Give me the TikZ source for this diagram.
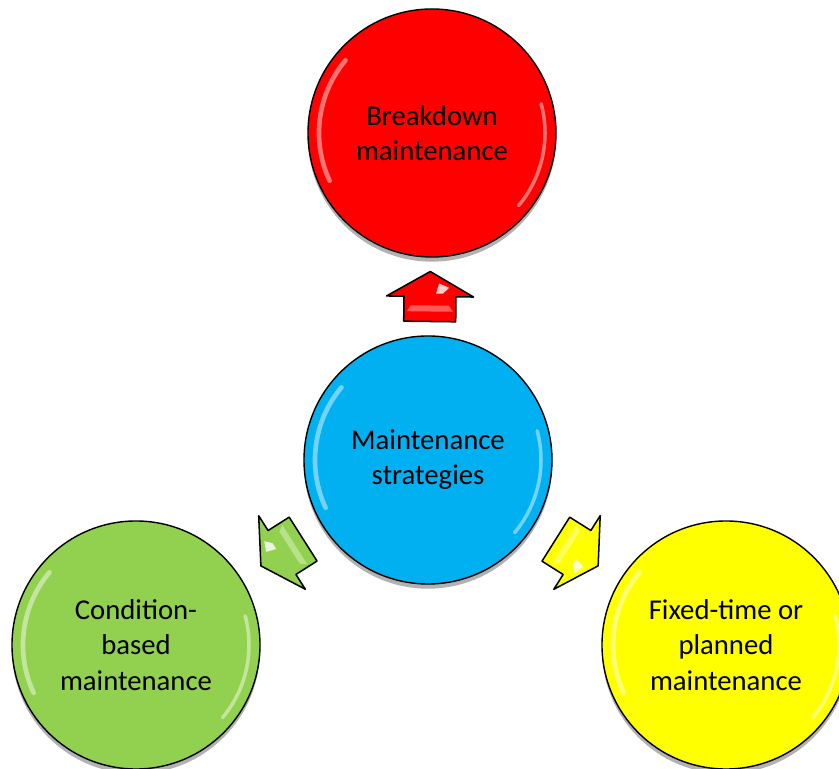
\documentclass[tikz,border=0pt]{standalone}
\usepackage{fontspec}
\setmainfont{Carlito}
\usetikzlibrary{calc,shadows}
\definecolor{brkred}{HTML}{FF0000}
\definecolor{mntblue}{HTML}{00B0F0}
\definecolor{cbmgreen}{HTML}{92D050}
\definecolor{ftmyellow}{HTML}{FFFF00}
\tikzset{
  pics/blockarrow/.style={code={
    \draw[line width=1.3pt,line join=round,fill=#1]
      (-25,-26)--(0,-26)--(0,-43.5)--(25,0)--(0,43.5)--(0,26)--(-25,26)--cycle;
    \fill[white,opacity=0.8] (3,-6)--(13,-9)--(9,-19)--(3,-13)--cycle;
    \fill[white,opacity=0.35] (-15,-23)--(-9,-19)--(-9,19)--(-15,23)--cycle;
  }}
}

\begin{document}
\begin{tikzpicture}[x=0.03cm,y=0.03cm,
    bubble/.style={circle,draw=black,line width=1.2pt,minimum size=7.44cm,inner sep=0pt,
      align=center,font=\fontsize{24.5}{30}\selectfont,
      drop shadow={shadow xshift=0pt,shadow yshift=-4pt,opacity=0.3,fill=black}},
    gloss/.style={white,opacity=0.45,line cap=round}]
  \useasboundingbox (0,0) rectangle (839,769);
  \fill[white] (0,0) rectangle (839,769);
  \node[bubble,fill=brkred](brk)at(432,636){Breakdown\\maintenance};
  \node[bubble,fill=mntblue](mnt)at(428,309){Maintenance\\strategies};
  \node[bubble,fill=cbmgreen](cbm)at(136,124){Condition-\\based\\maintenance};
  \node[bubble,fill=ftmyellow](ftm)at(726,124){Fixed-time or\\planned\\maintenance};
  \foreach \n in {brk,mnt,cbm,ftm}{
    \draw[gloss,line width=4pt] ([shift={(140:113)}]\n.center) arc[start angle=140,end angle=205,radius=113];
    \draw[gloss,line width=3pt] ([shift={(-40:113)}]\n.center) arc[start angle=-40,end angle=15,radius=113];
  }
  \pic[rotate=89.3] at ($(mnt)!0.5!(brk)$) {blockarrow=brkred};
  \pic[rotate=212.4] at ($(mnt)!0.5!(cbm)$) {blockarrow=cbmgreen};
  \pic[rotate=327.8] at ($(mnt)!0.5!(ftm)$) {blockarrow=ftmyellow};
\end{tikzpicture}
\end{document}
